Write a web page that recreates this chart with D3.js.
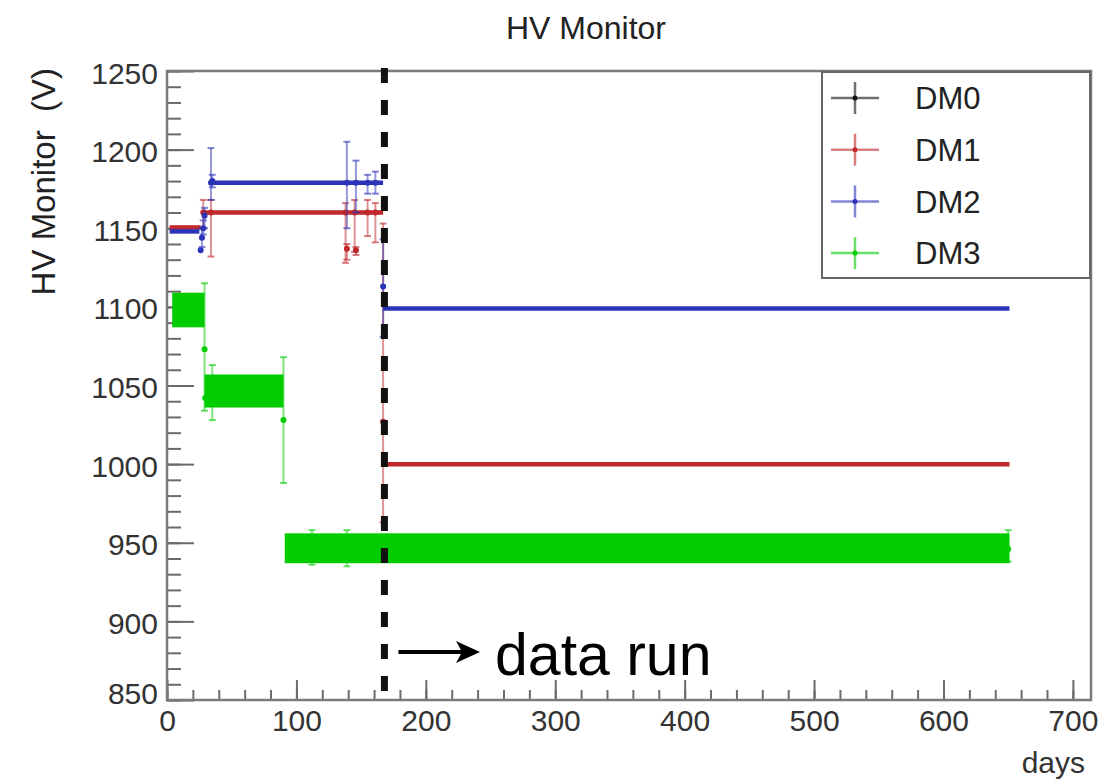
<!DOCTYPE html>
<html><head><meta charset="utf-8">
<script src="https://cdn.jsdelivr.net/npm/d3@7"></script>
<style>
html,body{margin:0;padding:0;background:#fff;}
svg{display:block;font-family:"Liberation Sans",Arial,Helvetica,sans-serif;}
</style></head><body>
<svg id="chart" width="1120" height="779"></svg>
<script>
// ---------------- data ----------------
const seriesNames = ["DM0", "DM1", "DM2", "DM3"];
const seriesColors = ["#111111", "#c0282c", "#2b33b8", "#00cc00"];

const xTickValues = [0, 100, 200, 300, 400, 500, 600, 700];
const yTickValues = [850, 900, 950, 1000, 1050, 1100, 1150, 1200, 1250];

// constant-voltage runs: start day, end day, volts
const dm0LevelStart = [];
const dm0LevelEnd = [];
const dm0LevelValue = [];
const dm1LevelStart = [2, 29, 167];
const dm1LevelEnd = [26, 167, 651];
const dm1LevelValue = [1150.5, 1160, 1000];
const dm2LevelStart = [2, 33, 167];
const dm2LevelEnd = [25, 167, 651];
const dm2LevelValue = [1148, 1179, 1099];

// DM3 readings fluctuate densely inside these bands
const dm3BandStart = [4, 29, 91];
const dm3BandEnd = [29, 90, 651];
const dm3BandLow = [1087, 1036, 937];
const dm3BandHigh = [1109, 1057, 956];
const dm3LevelStart = [];
const dm3LevelEnd = [];
const dm3LevelValue = [];

// individual readings with error bars: day, value, lower, upper
const dm0PointDay = [];
const dm0PointValue = [];
const dm0PointLow = [];
const dm0PointHigh = [];
const dm1PointDay = [28, 34, 138, 139, 145, 146, 155, 161, 167];
const dm1PointValue = [1160, 1160, 1160, 1137, 1160, 1136, 1160, 1160, 1027];
const dm1PointLow = [1150, 1132, 1128, 1130, 1135, 1133, 1145, 1141, 963];
const dm1PointHigh = [1168, 1168, 1166, 1140, 1168, 1138, 1168, 1166, 1153];
const dm2PointDay = [26, 27, 28, 29, 34, 35, 139, 146, 155, 161, 167];
const dm2PointValue = [1136, 1144, 1150, 1158, 1179, 1180, 1179, 1179, 1179, 1179, 1113];
const dm2PointLow = [1136, 1138, 1146, 1150, 1168, 1176, 1150, 1160, 1172, 1172, 1081];
const dm2PointHigh = [1136, 1150, 1155, 1163, 1201, 1184, 1205, 1193, 1184, 1186, 1143];
const dm3PointDay = [29, 29.5, 35, 90, 112, 139, 650];
const dm3PointValue = [1073, 1042, 1046, 1028, 946, 946, 946];
const dm3PointLow = [1034, 1042, 1028, 988, 936, 935, 938];
const dm3PointHigh = [1115, 1042, 1063, 1068, 958, 958, 958];

const dataRunDay = 168;

// ---------------- chart ----------------
const svg = d3.select("#chart");
const W = 1120, H = 779;
const plot = {left: 167, right: 1091, top: 71, bottom: 700};

const x = d3.scaleLinear().domain([0, 714]).range([plot.left, plot.right]);
const y = d3.scaleLinear().domain([850, 1250]).range([plot.bottom, plot.top]);

svg.append("rect").attr("width", W).attr("height", H).attr("fill", "#fff");

// title
svg.append("text").attr("x", 586).attr("y", 39).attr("text-anchor", "middle")
  .attr("font-size", 32).attr("fill", "#222").text("HV Monitor");

// axes (ticks point inward, ROOT style)
const yMinor = d3.range(850, 1251, 10);
const xMinor = d3.range(0, 714, 20);
svg.append("g").attr("transform", `translate(${plot.left},0)`)
  .call(d3.axisLeft(y).tickValues(yMinor).tickSize(-14).tickFormat(""))
  .call(g => g.select(".domain").remove())
  .call(g => g.selectAll("line").attr("stroke", "#6a6a6a").attr("stroke-width", 2));
svg.append("g").attr("transform", `translate(0,${plot.bottom})`)
  .call(d3.axisBottom(x).tickValues(xMinor).tickSize(-10).tickFormat(""))
  .call(g => g.select(".domain").remove())
  .call(g => g.selectAll("line").attr("stroke", "#6a6a6a").attr("stroke-width", 2));

const yAx = svg.append("g").attr("transform", `translate(${plot.left},0)`)
  .call(d3.axisLeft(y).tickValues(yTickValues).tickSize(-27).tickPadding(9).tickFormat(d3.format("d")))
  .call(g => g.select(".domain").remove());
yAx.selectAll("line").attr("stroke", "#6a6a6a").attr("stroke-width", 2);
yAx.selectAll("text").attr("font-size", 30).attr("fill", "#333")
  .attr("font-family", "Liberation Sans, Arial, sans-serif")
  .attr("dy", d => d === 850 ? "0.12em" : "0.40em");

const xAx = svg.append("g").attr("transform", `translate(0,${plot.bottom})`)
  .call(d3.axisBottom(x).tickValues(xTickValues).tickSize(-20).tickPadding(10).tickFormat(d3.format("d")))
  .call(g => g.select(".domain").remove());
xAx.selectAll("line").attr("stroke", "#6a6a6a").attr("stroke-width", 2);
xAx.selectAll("text").attr("font-size", 30).attr("fill", "#333")
  .attr("font-family", "Liberation Sans, Arial, sans-serif");

// axis titles
svg.append("text").attr("transform", "translate(55,68) rotate(-90)")
  .attr("text-anchor", "end").attr("font-size", 33).attr("fill", "#222")
  .style("white-space", "pre").text("HV Monitor  (V)");
svg.append("text").attr("x", 1085).attr("y", 773).attr("text-anchor", "end")
  .attr("font-size", 30).attr("fill", "#333").text("days");

// data layer
const dataG = svg.append("g");
const series = [
  {ls: dm0LevelStart, le: dm0LevelEnd, lv: dm0LevelValue, pd: dm0PointDay, pv: dm0PointValue, pl: dm0PointLow, ph: dm0PointHigh, bs: [], be: [], bl: [], bh: []},
  {ls: dm1LevelStart, le: dm1LevelEnd, lv: dm1LevelValue, pd: dm1PointDay, pv: dm1PointValue, pl: dm1PointLow, ph: dm1PointHigh, bs: [], be: [], bl: [], bh: []},
  {ls: dm2LevelStart, le: dm2LevelEnd, lv: dm2LevelValue, pd: dm2PointDay, pv: dm2PointValue, pl: dm2PointLow, ph: dm2PointHigh, bs: [], be: [], bl: [], bh: []},
  {ls: dm3LevelStart, le: dm3LevelEnd, lv: dm3LevelValue, pd: dm3PointDay, pv: dm3PointValue, pl: dm3PointLow, ph: dm3PointHigh, bs: dm3BandStart, be: dm3BandEnd, bl: dm3BandLow, bh: dm3BandHigh}
];

series.forEach((s, i) => {
  const col = seriesColors[i];
  const g = dataG.append("g");
  // error bars
  const pts = s.pd.map((d, k) => ({d, v: s.pv[k], lo: s.pl[k], hi: s.ph[k]}));
  const eb = pts.filter(p => p.hi > p.lo);
  g.selectAll(".eb").data(eb).join("line")
    .attr("x1", p => x(p.d)).attr("x2", p => x(p.d))
    .attr("y1", p => y(p.hi)).attr("y2", p => y(p.lo))
    .attr("stroke", col).attr("stroke-width", 2).attr("stroke-opacity", 0.5);
  ["hi", "lo"].forEach(key => {
    g.selectAll(".cap" + key).data(eb).join("line")
      .attr("x1", p => x(p.d) - 3.5).attr("x2", p => x(p.d) + 3.5)
      .attr("y1", p => y(p[key])).attr("y2", p => y(p[key]))
      .attr("stroke", col).attr("stroke-width", 2).attr("stroke-opacity", 0.6);
  });
  // bands
  const bands = s.bs.map((d, k) => ({s: d, e: s.be[k], lo: s.bl[k], hi: s.bh[k]}));
  g.selectAll(".band").data(bands).join("rect")
    .attr("x", b => x(b.s)).attr("width", b => x(b.e) - x(b.s))
    .attr("y", b => y(b.hi)).attr("height", b => y(b.lo) - y(b.hi))
    .attr("fill", col);
  // levels
  const lv = s.ls.map((d, k) => ({s: d, e: s.le[k], v: s.lv[k]}));
  g.selectAll(".lvl").data(lv).join("line")
    .attr("x1", l => x(l.s)).attr("x2", l => x(l.e))
    .attr("y1", l => y(l.v)).attr("y2", l => y(l.v))
    .attr("stroke", col).attr("stroke-width", 4.5);
  // markers
  g.selectAll(".pt").data(pts).join("circle")
    .attr("cx", p => x(p.d)).attr("cy", p => y(p.v)).attr("r", 3)
    .attr("fill", col);
});

// frame
svg.append("rect").attr("x", plot.left).attr("y", plot.top)
  .attr("width", plot.right - plot.left).attr("height", plot.bottom - plot.top)
  .attr("fill", "none").attr("stroke", "#7a7a7a").attr("stroke-width", 2.5);

// legend
const lg = svg.append("g");
lg.append("rect").attr("x", 822).attr("y", 72).attr("width", 268).attr("height", 206)
  .attr("fill", "#fff").attr("stroke", "#666").attr("stroke-width", 2);
seriesNames.forEach((name, i) => {
  const cy = 98 + i * 51.7;
  const col = seriesColors[i];
  lg.append("line").attr("x1", 831).attr("x2", 879).attr("y1", cy).attr("y2", cy)
    .attr("stroke", col).attr("stroke-width", 2.5).attr("stroke-opacity", 0.6);
  lg.append("line").attr("x1", 855).attr("x2", 855).attr("y1", cy - 16).attr("y2", cy + 16)
    .attr("stroke", col).attr("stroke-width", 2.5).attr("stroke-opacity", 0.6);
  lg.append("circle").attr("cx", 855).attr("cy", cy).attr("r", 2.5).attr("fill", col);
  lg.append("text").attr("x", 915).attr("y", cy).attr("dy", "0.36em")
    .attr("font-size", 31).attr("fill", "#222").text(name);
});

// data-run marker
svg.append("line").attr("x1", x(dataRunDay)).attr("x2", x(dataRunDay))
  .attr("y1", plot.top - 3).attr("y2", plot.bottom - 8)
  .attr("stroke", "#111").attr("stroke-width", 7).attr("stroke-dasharray", "15,17");

const arrowY = 652;
svg.append("line").attr("x1", x(dataRunDay) + 14).attr("x2", 462)
  .attr("y1", arrowY).attr("y2", arrowY).attr("stroke", "#000").attr("stroke-width", 4);
svg.append("path").attr("d", `M480,${arrowY} L456,${arrowY - 11} L462,${arrowY} L456,${arrowY + 11} Z`)
  .attr("fill", "#000");
svg.append("text").attr("x", 495).attr("y", 675).attr("font-size", 59)
  .attr("fill", "#000").text("data run");
</script>
</body></html>
